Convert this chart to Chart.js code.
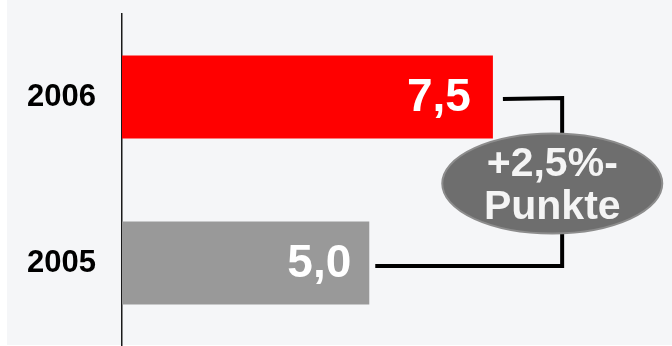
<!DOCTYPE html>
<html>
<head>
<meta charset="utf-8">
<script src="https://cdn.jsdelivr.net/npm/chart.js@4"></script>
<style>
  html, body { margin: 0; padding: 0; background: #ffffff; }
  #wrap { width: 672px; height: 346px; }
</style>
</head>
<body>
<div id="wrap"><canvas id="rateChart" width="672" height="346"></canvas></div>
<script>
// --- data ---
const years = ["2006", "2005"];
const rates = [7.5, 5.0];
const barColors = ["#ff0000", "#999999"];

const fmt = v => v.toFixed(1).replace('.', ',');

// panel background (white strip at the left and bottom)
const panelBg = {
  id: 'panelBg',
  beforeDraw(chart) {
    const c = chart.ctx;
    c.save();
    c.fillStyle = '#ffffff';
    c.fillRect(0, 0, chart.width, chart.height);
    c.fillStyle = '#f5f6f8';
    c.fillRect(7, 0, chart.width - 7, chart.height - 1);
    c.restore();
  }
};

// value labels inside the bar ends
const valueLabels = {
  id: 'valueLabels',
  afterDatasetsDraw(chart) {
    const c = chart.ctx;
    const meta = chart.getDatasetMeta(0);
    c.save();
    c.fillStyle = '#ffffff';
    c.font = 'bold 46px "Liberation Sans", Arial, sans-serif';
    c.textAlign = 'right';
    c.textBaseline = 'middle';
    meta.data.forEach((bar, i) => {
      const pad = i === 0 ? 22 : 18;
      c.fillText(fmt(rates[i]), bar.x - pad, bar.y + 1);
    });
    c.restore();
  }
};

// bracket between the two bars with the difference badge
const diffBracket = {
  id: 'diffBracket',
  afterDraw(chart) {
    const c = chart.ctx;
    const xs = chart.scales.x, ys = chart.scales.y;
    const meta = chart.getDatasetMeta(0);
    const top = meta.data[0], bot = meta.data[1];
    const xv = xs.getPixelForValue(8.9);
    const yTop = ys.getPixelForValue(0) + 2;
    const yBot = ys.getPixelForValue(1) + 3;

    c.save();
    c.strokeStyle = '#000000';
    c.lineWidth = 4;
    c.lineCap = 'butt';
    c.lineJoin = 'miter';
    c.beginPath();
    c.moveTo(top.x + 10, yTop);
    c.lineTo(xv, yTop - 1);
    c.lineTo(xv, yBot);
    c.lineTo(bot.x + 6, yBot);
    c.stroke();

    const cx = xs.getPixelForValue(8.7);
    const cy = (yTop + yBot) / 2 + 1;
    c.beginPath();
    c.ellipse(cx, cy, 110, 50, 0, 0, Math.PI * 2);
    c.fillStyle = '#6e6e6e';
    c.fill();
    c.lineWidth = 2;
    c.strokeStyle = '#8c8c8c';
    c.stroke();

    c.fillStyle = '#f4f4f4';
    c.font = 'bold 41px "Liberation Sans", Arial, sans-serif';
    c.textAlign = 'center';
    c.textBaseline = 'middle';
    const diff = rates[0] - rates[1];
    c.fillText('+' + fmt(diff) + '%-', cx, cy - 19);
    c.fillText('Punkte', cx, cy + 24);
    c.restore();
  }
};

const ctx = document.getElementById('rateChart').getContext('2d');
new Chart(ctx, {
  type: 'bar',
  data: {
    labels: years,
    datasets: [{
      data: rates,
      backgroundColor: barColors,
      borderWidth: 0,
      categoryPercentage: 1.0,
      barPercentage: 0.5
    }]
  },
  options: {
    indexAxis: 'y',
    responsive: false,
    animation: false,
    layout: { padding: { top: 14, right: 6, bottom: 0, left: 0 } },
    plugins: { legend: { display: false }, tooltip: { enabled: false } },
    scales: {
      x: {
        display: false,
        min: 0,
        max: 11
      },
      y: {
        grid: { display: false, drawTicks: false },
        border: { display: true, color: '#1a1a1a', width: 1.5 },
        ticks: {
          color: '#000000',
          padding: 26,
          font: { family: '"Liberation Sans", Arial, sans-serif', size: 31, weight: 'bold' }
        },
        afterFit(scale) {
          scale.width = 122;
          scale.paddingTop = 0;
          scale.paddingBottom = 0;
        }
      }
    }
  },
  plugins: [panelBg, valueLabels, diffBracket]
});
</script>
</body>
</html>
